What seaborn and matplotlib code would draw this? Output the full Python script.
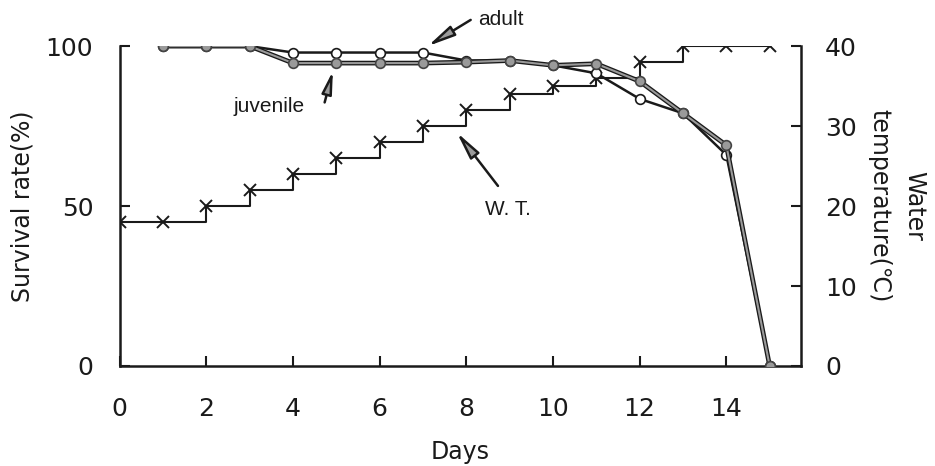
import numpy as np
import pandas as pd
import seaborn as sns
import matplotlib.pyplot as plt
import matplotlib.patheffects as pe

days = [1, 2, 3, 4, 5, 6, 7, 8, 9, 10, 11, 12, 13, 14, 15]
adult = [100, 100, 100, 98, 98, 98, 98, 95.5, 95.5, 94, 91.5, 83.5, 79, 66, 0]
juvenile = [100, 100, 100, 94.7, 94.7, 94.7, 94.7, 95, 95.5, 94, 94.5, 89, 79, 69, 0]

wt_days = [0, 1, 2, 3, 4, 5, 6, 7, 8, 9, 10, 11, 12, 13, 14, 15]
water_temp = [18, 18, 20, 22, 24, 26, 28, 30, 32, 34, 35, 36, 38, 40, 40, 40]

df = pd.DataFrame({'Days': days, 'adult': adult, 'juvenile': juvenile})
wt = pd.DataFrame({'Days': wt_days, 'WT': water_temp})

sns.set_style('ticks')
plt.rcParams['font.family'] = ['DejaVu Sans']

ink = '#1a1a1a'
fig = plt.figure(figsize=(9.35, 4.66), dpi=100)
ax = fig.add_axes([0.128, 0.2146, 0.729, 0.6864])
ax2 = ax.twinx()

# water temperature steps on the right axis
sns.lineplot(data=wt, x='Days', y='WT', ax=ax2, color=ink, lw=1.5,
             marker='x', markersize=8, mew=1.4, mec=ink, drawstyle='steps-post',
             errorbar=None)

# survival lines
sns.lineplot(data=df, x='Days', y='adult', ax=ax, color=ink, lw=1.8,
             marker='o', markersize=7, mfc='white', mec=ink, mew=1.2,
             errorbar=None, zorder=3)
sns.lineplot(data=df, x='Days', y='juvenile', ax=ax, color='#9a9a9a', lw=1.5,
             errorbar=None, zorder=4,
             path_effects=[pe.Stroke(linewidth=3.4, foreground=ink), pe.Normal()])
sns.lineplot(data=df, x='Days', y='juvenile', ax=ax, linestyle='', lw=0,
             marker='o', markersize=7, mfc='#9a9a9a', mec='#444444', mew=1.2,
             errorbar=None, zorder=5)

ax.set_zorder(ax2.get_zorder() + 1)
ax.patch.set_visible(False)

ax.set_xlim(0, 15.73)
ax.set_ylim(0, 100)
ax2.set_ylim(0, 40)
ax.set_xticks([0, 2, 4, 6, 8, 10, 12, 14])
ax.set_yticks([0, 50, 100])
ax2.set_yticks([0, 10, 20, 30, 40])

for a in (ax, ax2):
    a.spines['top'].set_visible(False)
    for s in a.spines.values():
        s.set_linewidth(1.8)
        s.set_color(ink)
ax.spines['right'].set_visible(False)
ax2.spines['left'].set_visible(False)
ax2.spines['bottom'].set_visible(False)

ax.tick_params(axis='x', direction='in', length=7, width=1.5, pad=22, labelsize=18, colors=ink)
ax.tick_params(axis='y', direction='in', length=7, width=1.5, pad=19, labelsize=18, colors=ink)
ax2.tick_params(axis='y', direction='in', length=7, width=1.5, pad=17, labelsize=18, colors=ink)

ax.set_xlabel('Days', fontsize=17, labelpad=14, color=ink)
ax.set_ylabel('Survival rate(%)', fontsize=17, labelpad=8, color=ink)
ax2.set_ylabel('Water\ntemperature(\u2103)', fontsize=17, rotation=270,
               labelpad=50, linespacing=1.55, color=ink)

# annotation labels with grey-headed arrows
ann_font = dict(family=['Liberation Sans', 'DejaVu Sans'], fontsize=15, color=ink)
arrow = dict(arrowstyle='-|>,head_length=1.1,head_width=0.22',
             mutation_scale=15, fc='#9a9a9a', ec=ink, lw=1.8,
             shrinkA=0, shrinkB=0)
ax.annotate('', xy=(7.11, 100.0), xytext=(8.1, 108.2),
            arrowprops=arrow, annotation_clip=False)
ax.text(8.27, 108.3, 'adult', ha='left', va='center', clip_on=False, **ann_font)
ax.annotate('', xy=(4.92, 92.2), xytext=(4.73, 82.4),
            arrowprops=dict(arrow, arrowstyle='-|>,head_length=0.9,head_width=0.2'))
ax.text(3.44, 81.2, 'juvenile', ha='center', va='center', **ann_font)
ax.annotate('', xy=(7.78, 73.0), xytext=(8.73, 56.3), arrowprops=arrow)
ax.text(8.96, 48.9, 'W. T.', ha='center', va='center', **ann_font)

fig.savefig('out.png', dpi=100)
